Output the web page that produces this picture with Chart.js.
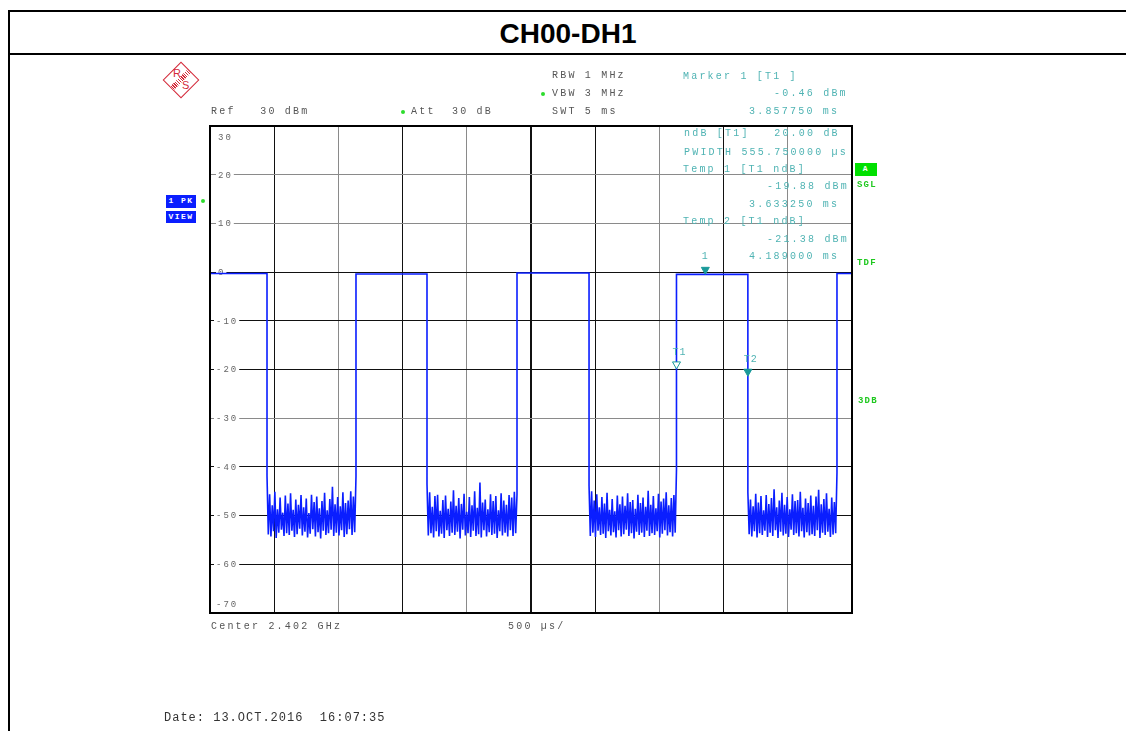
<!DOCTYPE html>
<html>
<head>
<meta charset="utf-8">
<title>CH00-DH1</title>
<script src="https://cdn.jsdelivr.net/npm/chart.js@4.4.1/dist/chart.umd.min.js"></script>
<style>
  body { margin: 0; background: #fff; width: 1126px; height: 731px; overflow: hidden; position: relative; font-family: "Liberation Mono", monospace; }
  #sweepChart { position: absolute; left: 0; top: 0; }
  .line { position: absolute; background: #000; }
  .title { position: absolute; left: 10px; right: 0; top: 18px; text-align: center; font: bold 28px "Liberation Sans", Arial, sans-serif; color: #000; }
  .t { position: absolute; white-space: pre; font-size: 10px; line-height: 12px; letter-spacing: 2.2px; color: #555; }
  .c { color: #4fb3b3; }
  .g { color: #1ec81e; font-weight: bold; font-size: 9px; letter-spacing: 1.2px; }
  .box { position: absolute; white-space: pre; font: bold 8px "Liberation Mono", monospace; line-height: 12px; letter-spacing: 1.5px; color: #fff; text-align: center; }
  .dot { position: absolute; width: 4px; height: 4px; border-radius: 2px; background: #2ddc2d; }
  .date { position: absolute; left: 164px; top: 711px; white-space: pre; font-size: 12px; letter-spacing: 1px; color: #333; }
  #logo { position: absolute; left: 168px; top: 67px; width: 26px; height: 26px; border: 1.5px solid #d42a3a; transform: rotate(45deg); box-sizing: border-box; }
  #logo .band { position: absolute; top: 0; bottom: 0; left: 9px; width: 5px; background: repeating-linear-gradient(0deg, #d42a3a 0 1px, #fff 1px 2px); }
  .rs { position: absolute; font: 11px "Liberation Sans", Arial, sans-serif; line-height: 11px; color: #d42a3a; }
</style>
</head>
<body>
<div class="line" style="left:8px; top:10px; width:1118px; height:2px;"></div>
<div class="line" style="left:8px; top:53px; width:1118px; height:2px;"></div>
<div class="line" style="left:8px; top:10px; width:2px; height:721px;"></div>
<div class="title">CH00-DH1</div>

<div id="logo"><div class="band"></div></div>
<div class="rs" style="left:173px; top:68px;">R</div>
<div class="rs" style="left:182px; top:80px;">S</div>

<canvas id="sweepChart" width="1126" height="731"></canvas>

<div class="t" style="left:552px; top:70px;">RBW 1 MHz</div>
<div class="t" style="left:552px; top:88px;">VBW 3 MHz</div>
<div class="dot" style="left:541px; top:92px;"></div>
<div class="t" style="left:552px; top:106px;">SWT 5 ms</div>
<div class="t" style="left:211px; top:106px;">Ref   30 dBm</div>
<div class="t" style="left:411px; top:106px;">Att  30 dB</div>
<div class="dot" style="left:401px; top:110px;"></div>

<div class="t c" style="left:683px; top:71px;">Marker 1 [T1 ]</div>
<div class="t c" style="left:774px; top:88px;">-0.46 dBm</div>
<div class="t c" style="left:749px; top:106px;">3.857750 ms</div>
<div class="t c" style="left:684px; top:128px;">ndB [T1]   20.00 dB</div>
<div class="t c" style="left:684px; top:147px;">PWIDTH 555.750000 µs</div>
<div class="t c" style="left:683px; top:164px;">Temp 1 [T1 ndB]</div>
<div class="t c" style="left:767px; top:181px;">-19.88 dBm</div>
<div class="t c" style="left:749px; top:199px;">3.633250 ms</div>
<div class="t c" style="left:683px; top:216px;">Temp 2 [T1 ndB]</div>
<div class="t c" style="left:767px; top:234px;">-21.38 dBm</div>
<div class="t c" style="left:749px; top:251px;">4.189000 ms</div>

<div class="box" style="left:166px; top:195px; width:30px; height:13px; background:#0a1eff;">1 PK</div>
<div class="box" style="left:166px; top:211px; width:30px; height:12px; background:#0a1eff;">VIEW</div>
<div class="dot" style="left:201px; top:199px;"></div>

<div class="box" style="left:855px; top:163px; width:22px; height:13px; background:#00e000;">A</div>
<div class="t g" style="left:857px; top:179px;">SGL</div>
<div class="t g" style="left:857px; top:257px;">TDF</div>
<div class="t g" style="left:858px; top:395px;">3DB</div>

<div class="t" style="left:211px; top:621px;">Center 2.402 GHz</div>
<div class="t" style="left:508px; top:621px;">500 µs/</div>
<div class="date">Date: 13.OCT.2016  16:07:35</div>

<script>
// sweep: 0 .. 5 ms (500 us/div), level in dBm
const yTicks = [30, 20, 10, 0, -10, -20, -30, -40, -50, -60, -70];

// burst on (rise) / off (fall) times in ms
const riseMs = [0, 1.137, 2.391, 3.633, 4.883];
const fallMs = [0.444, 1.690, 2.952, 4.189, 5.0];
const onLevelDbm = [-0.3, -0.4, -0.2, -0.46, -0.3];

// noise floor between bursts
const noiseA = [-41.8, -53.9, -45.6, -54.3, -47.9, -53.2, -45.1, -54.6, -48.7, -53.5, -46.3, -52.9, -49.4, -54.2, -45.9, -53.6, -47.5, -54.0, -45.4, -53.1, -48.8, -54.4, -46.7, -53.8, -47.8, -52.7, -45.8, -54.1, -48.3, -53.3, -46.5, -54.5, -49.5, -53.7, -45.7, -52.8, -47.2, -54.3, -46.1, -53.4, -48.5, -54.7, -47.0, -53.1, -45.3, -54.0, -48.9, -53.6, -46.6, -52.9, -44.1, -54.2, -47.7, -53.5, -46.2, -54.1, -48.1, -53.0, -45.2, -54.4, -47.4, -53.8, -46.9, -52.8, -45.0, -54.0, -46.1, -53.4, -41.9];
const noiseB = [-43.5, -54.1, -45.2, -53.6, -48.2, -54.5, -46.0, -53.2, -45.7, -54.3, -49.0, -53.7, -46.8, -54.6, -45.9, -53.0, -48.6, -54.2, -47.1, -53.5, -44.8, -54.0, -48.0, -53.3, -46.4, -54.7, -47.6, -52.9, -45.5, -54.1, -49.2, -53.6, -46.2, -54.4, -47.9, -53.1, -45.0, -54.2, -48.4, -53.8, -43.2, -54.5, -47.3, -53.0, -46.7, -54.3, -48.7, -53.4, -45.6, -54.0, -47.0, -53.7, -46.0, -54.6, -48.9, -53.2, -45.4, -54.1, -46.9, -53.5, -47.8, -54.3, -45.8, -53.0, -46.3, -54.2, -45.1, -53.6, -45.6];
const noiseC = [-43.8, -54.2, -45.0, -53.5, -46.9, -54.4, -45.6, -53.1, -48.3, -54.0, -46.2, -53.7, -47.5, -54.6, -45.3, -53.2, -48.8, -54.1, -46.6, -53.4, -49.1, -54.5, -45.9, -53.0, -47.7, -54.3, -46.1, -53.8, -48.0, -52.9, -45.4, -54.2, -47.2, -53.6, -46.8, -54.7, -48.6, -53.3, -45.7, -54.0, -47.4, -53.5, -46.3, -54.4, -48.2, -53.1, -44.9, -54.2, -47.8, -53.6, -46.0, -54.0, -48.5, -53.2, -45.5, -54.5, -47.1, -53.7, -46.5, -53.0, -45.2, -54.1, -47.9, -53.4, -46.4, -54.3, -45.8, -53.5, -40.6];
const noiseD = [-45.2, -53.8, -46.7, -54.3, -48.1, -53.2, -45.5, -54.5, -47.3, -53.6, -46.0, -54.0, -48.9, -53.1, -45.8, -54.4, -47.6, -53.5, -46.4, -54.2, -44.6, -53.0, -48.3, -54.6, -46.9, -53.3, -45.3, -54.1, -47.8, -53.7, -46.2, -54.4, -48.7, -52.9, -45.6, -54.0, -47.0, -53.6, -46.8, -54.3, -45.1, -53.2, -48.4, -54.5, -46.5, -53.4, -47.4, -54.1, -45.9, -53.8, -48.0, -54.2, -46.1, -53.0, -44.7, -54.6, -47.7, -53.5, -46.6, -54.0, -45.4, -53.3, -48.6, -54.4, -46.3, -53.9, -47.2, -53.6, -41.2];
const noiseSegments = [noiseA, noiseB, noiseC, noiseD];

// markers: 1, T1, T2
const markerNames = ["1", "T1", "T2"];
const markerMs = [3.85775, 3.63325, 4.189];
const markerDbm = [-0.46, -19.88, -21.38];
const markerFilled = [true, false, true];

const trace = [];
for (let i = 0; i < riseMs.length; i++) {
  trace.push({ x: riseMs[i], y: onLevelDbm[i] });
  trace.push({ x: fallMs[i], y: onLevelDbm[i] });
  const noise = noiseSegments[i];
  if (noise) {
    const a = fallMs[i], b = riseMs[i + 1];
    noise.forEach((v, k) => trace.push({ x: a + (b - a) * k / (noise.length - 1), y: v }));
  }
}

const xDarkLines = [1, 3, 5, 6, 8];
const yGrayLines = [4, 8, 9];

const framePlugin = {
  id: "frame",
  beforeDatasetsDraw(chart) {
    const { ctx, chartArea, scales } = chart;
    ctx.save();
    ctx.font = "9px 'Liberation Mono', monospace";
    ctx.letterSpacing = "2px";
    ctx.textBaseline = "middle";
    yTicks.forEach((v) => {
      let y = scales.y.getPixelForValue(v);
      if (v === 30) y = chartArea.top + 11;
      if (v === -70) y = chartArea.bottom - 9;
      const label = String(v);
      const x = chartArea.left + (v < 0 ? 6 : 8);
      const w = ctx.measureText(label).width;
      ctx.fillStyle = "#fff";
      ctx.fillRect(x - 2, y - 5, w + 3, 10);
      ctx.fillStyle = "#666";
      ctx.fillText(label, x, y + 0.5);
    });
    ctx.restore();
  },
  afterDatasetsDraw(chart) {
    const { ctx, chartArea, scales } = chart;
    ctx.save();
    // markers: downward triangles with the tip on the marker value
    ctx.font = "10px 'Liberation Mono', monospace";
    ctx.letterSpacing = "1px";
    ctx.textAlign = "center";
    ctx.lineWidth = 1;
    markerNames.forEach((name, i) => {
      const px = scales.x.getPixelForValue(markerMs[i]);
      const py = scales.y.getPixelForValue(markerDbm[i]);
      ctx.beginPath();
      ctx.moveTo(px - 4, py - 7);
      ctx.lineTo(px + 4, py - 7);
      ctx.lineTo(px, py);
      ctx.closePath();
      ctx.strokeStyle = "#1a9a9a";
      ctx.fillStyle = markerFilled[i] ? "#1a9a9a" : "#fff";
      ctx.fill();
      ctx.stroke();
      ctx.fillStyle = "#4fb3b3";
      ctx.fillText(name, px + (name === "1" ? 0 : 3), py - (name === "1" ? 15 : 14));
    });
    ctx.strokeStyle = "#000";
    ctx.lineWidth = 2;
    ctx.strokeRect(chartArea.left, chartArea.top, chartArea.right - chartArea.left, chartArea.bottom - chartArea.top);
    ctx.restore();
  },
};

const ctx = document.getElementById("sweepChart");
new Chart(ctx, {
  type: "line",
  data: {
    datasets: [
      {
        label: "1 PK VIEW",
        data: trace,
        borderColor: "#0a1eff",
        borderWidth: 1.6,
        pointRadius: 0,
        tension: 0,
      },
    ],
  },
  options: {
    responsive: false,
    animation: false,
    devicePixelRatio: 1,
    layout: { padding: { left: 210, top: 126, right: 274, bottom: 118 } },
    plugins: {
      legend: { display: false },
      tooltip: { enabled: false },
    },
    scales: {
      x: {
        type: "linear",
        min: 0,
        max: 5,
        ticks: { display: false, stepSize: 0.5 },
        grid: {
          drawTicks: false,
          color: (c) => (xDarkLines.includes(c.index) ? "#111" : "#8a8a8a"),
          lineWidth: (c) => (c.index === 5 ? 2 : 1),
        },
        border: { display: false },
      },
      y: {
        min: -70,
        max: 30,
        ticks: { display: false, stepSize: 10 },
        grid: {
          drawTicks: false,
          color: (c) => (yGrayLines.includes(c.index) ? "#8a8a8a" : "#111"),
        },
        border: { display: false },
      },
    },
  },
  plugins: [framePlugin],
});
</script>
</body>
</html>
